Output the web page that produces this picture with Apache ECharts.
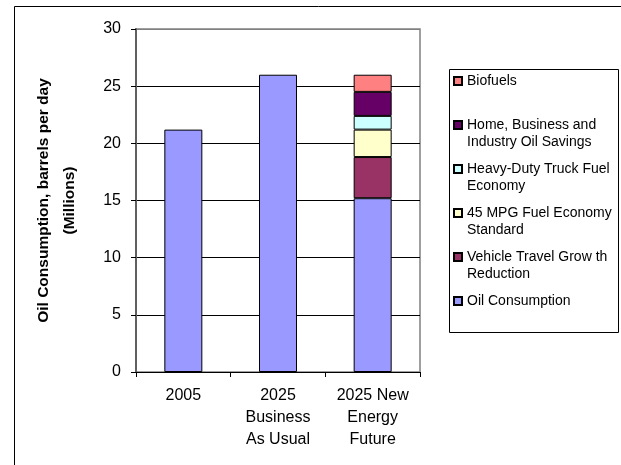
<!DOCTYPE html>
<html><head><meta charset="utf-8">
<script src="https://cdn.jsdelivr.net/npm/echarts@6/dist/echarts.min.js"></script>
<style>html,body{margin:0;padding:0;background:#fff}#c{width:621px;height:465px}</style>
</head><body><div id="c"></div>
<script>
const categories = ['2005', '2025\nBusiness\nAs Usual', '2025 New\nEnergy\nFuture'];
const oilConsumption = [21.2, 26.0, 15.2];
const vehicleTravel = ['-', '-', 3.6];
const mpgStandard = ['-', '-', 2.4];
const truckEconomy = ['-', '-', 1.2];
const homeSavings = ['-', '-', 2.1];
const biofuels = ['-', '-', 1.5];
const yTicks = [0, 5, 10, 15, 20, 25, 30];

const seriesDefs = [
  {name: 'Oil Consumption', data: oilConsumption, color: '#9999FF'},
  {name: 'Vehicle Travel Growth Reduction', data: vehicleTravel, color: '#993366'},
  {name: '45 MPG Fuel Economy Standard', data: mpgStandard, color: '#FFFFCC'},
  {name: 'Heavy-Duty Truck Fuel Economy', data: truckEconomy, color: '#CCFFFF'},
  {name: 'Home, Business and Industry Oil Savings', data: homeSavings, color: '#660066'},
  {name: 'Biofuels', data: biofuels, color: '#FF8080'}
];
const legendLabels = {
  'Biofuels': ' \nBiofuels\n ',
  'Home, Business and Industry Oil Savings': ' \nHome, Business and\nIndustry Oil Savings',
  'Heavy-Duty Truck Fuel Economy': ' \nHeavy-Duty Truck Fuel\nEconomy',
  '45 MPG Fuel Economy Standard': ' \n45 MPG Fuel Economy\nStandard',
  'Vehicle Travel Growth Reduction': ' \nVehicle Travel Grow th\nReduction',
  'Oil Consumption': ' \nOil Consumption\n '
};
const font = '"Liberation Sans", Arial, sans-serif';
const chart = echarts.init(document.getElementById('c'), null, {renderer: 'canvas'});
chart.setOption({
  animation: false,
  backgroundColor: '#fff',
  graphic: [
    {type: 'rect', shape: {x: 14.5, y: 6.5, width: 640, height: 480}, style: {fill: 'none', stroke: '#000', lineWidth: 1}, z: -10},
    {type: 'rect', shape: {x: 449.5, y: 69.5, width: 169, height: 263}, style: {fill: '#fff', stroke: '#000', lineWidth: 1}, z: -5}
  ],
  grid: {left: 136, top: 29, right: 201, bottom: 93, show: true, borderColor: '#808080', borderWidth: 1.5, containLabel: false},
  legend: {
    orient: 'vertical', left: 453, top: 55.5, padding: 0, itemGap: -7,
    itemWidth: 8, itemHeight: 8, icon: 'rect',
    data: seriesDefs.map(s => s.name).reverse(),
    formatter: n => legendLabels[n],
    textStyle: {fontFamily: font, fontSize: 14, color: '#000', lineHeight: 17, backgroundColor: 'rgba(0,0,0,0)'}
  },
  xAxis: {
    type: 'category', data: categories,
    axisLine: {lineStyle: {color: '#000', width: 1}},
    axisTick: {show: true, length: 5, lineStyle: {color: '#000'}},
    axisLabel: {fontFamily: font, fontSize: 16, color: '#000', lineHeight: 22, margin: 13}
  },
  yAxis: {
    type: 'value', min: 0, max: 30, interval: 5,
    name: 'Oil Consumption, barrels per day\n(Millions)',
    nameLocation: 'middle', nameGap: 53,
    nameTextStyle: {fontFamily: font, fontSize: 15.5, fontWeight: 'bold', color: '#000', lineHeight: 26},
    axisLine: {show: true, lineStyle: {color: '#606060', width: 2}},
    axisTick: {show: true, length: 5, lineStyle: {color: '#000'}},
    axisLabel: {fontFamily: font, fontSize: 16, color: '#000', margin: 15},
    splitLine: {show: true, lineStyle: {color: ['#000', '#000', '#000', '#000', '#000', '#000', '#808080'], width: 1}}
  },
  series: seriesDefs.map(s => ({
    type: 'bar', name: s.name, data: s.data, stack: 'total', barWidth: 38,
    itemStyle: {color: s.color, borderColor: '#000', borderWidth: 1}
  }))
});
</script></body></html>
